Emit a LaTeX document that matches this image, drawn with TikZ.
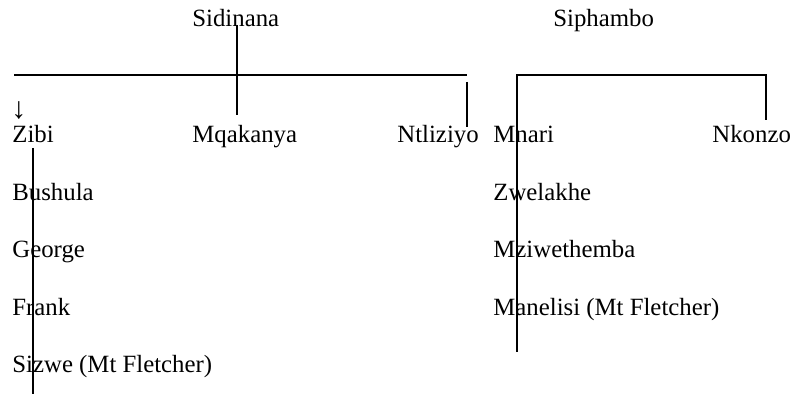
\documentclass[tikz,border=0pt]{standalone}
\usepackage{fontspec}
\setmainfont{Liberation Serif}
\usetikzlibrary{positioning}
\tikzset{%
	person/.style={
		inner sep=0pt,
		anchor=base west,
		font=\fontsize{12.4}{14}\selectfont
	},
	famline/.style={
		line width=0.9pt
	},
}
\begin{document}
\begin{tikzpicture}[x=0.5pt,y=-0.5pt]
	\useasboundingbox (0,0) rectangle (792,394);
	% the two heads
	\node[person] (sidinana) at (192,27) {Sidinana};
	\node[person] (siphambo) at (553,27) {Siphambo};
	
	% first generation
	\node[person, font=\fontsize{15}{16}\selectfont] (arrow) at (11,119) {↓};
	\node[person] (zibi) at (12,143) {Zibi};
	\node[person] (mqakanya) at (192,143) {Mqakanya};
	\node[person] (ntliziyo) at (397,143) {Ntliziyo};
	\node[person] (mnari) at (493,143) {Mnari};
	\node[person] (nkonzo) at (712,143) {Nkonzo};
	
	% children of Zibi and Mnari
	\foreach \n/\t [count=\i] in {bushula/Bushula, george/George, frank/Frank, sizwe/{Sizwe (Mt Fletcher)}}
		\node[person] (\n) at (12,{143+57.5*\i}) {\t};
	\foreach \n/\t [count=\i] in {zwelakhe/Zwelakhe, mziwethemba/Mziwethemba, manelisi/{Manelisi (Mt Fletcher)}}
		\node[person] (\n) at (493,{143+57.5*\i}) {\t};
	
	% Sidinana line
	\coordinate (sidtop) at (237,25);
	\coordinate (sidbot) at (237,115);
	\coordinate (barL) at (14,75);
	\coordinate (barR) at (467,75);
	\coordinate (ntltop) at (467,82);
	\coordinate (ntlbot) at (467,127);
	\draw[famline] (barL) -- (barR);
	\draw[famline] (sidtop) -- (sidbot);
	\draw[famline] (ntltop) -- (ntlbot);
	\coordinate (zibitop) at (33,148);
	\coordinate (zibibot) at (33,394);
	\draw[famline] (zibitop) -- (zibibot);
	
	% Siphambo line
	\coordinate (sipL) at (517,75);
	\coordinate (sipR) at (766,75);
	\coordinate (nkobot) at (766,120);
	\coordinate (mnabot) at (517,352);
	\draw[famline] (mnabot) -- (sipL) -- (sipR) -- (nkobot);
\end{tikzpicture}
\end{document}
